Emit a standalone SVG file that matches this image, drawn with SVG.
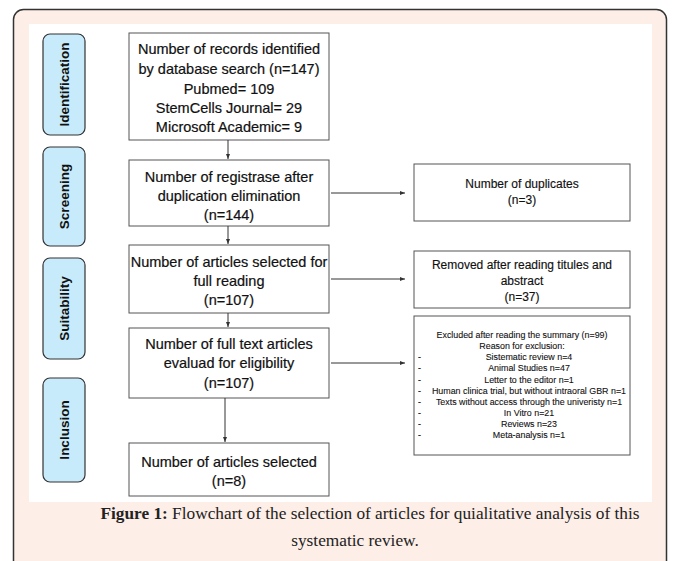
<svg xmlns="http://www.w3.org/2000/svg" width="677" height="561" viewBox="0 0 677 561">
<defs>
<style>
.frame{fill:#fdeee7;stroke:#333;stroke-width:1.5}
.panel{fill:#fff}
.pill{fill:#c8ebfb;stroke:#333;stroke-width:1.2}
.pt{font-family:"Liberation Sans",Arial,sans-serif;font-weight:bold;font-size:13.5px;fill:#111;text-anchor:middle}
.box{fill:#fff;stroke:#555;stroke-width:1}
.t{font-family:"Liberation Sans",Arial,sans-serif;font-size:14.5px;fill:#111;stroke:#111;stroke-width:0.2;text-anchor:middle}
.ts{font-family:"Liberation Sans",Arial,sans-serif;font-size:12px;fill:#111;stroke:#111;stroke-width:0.15;text-anchor:middle}
.tx{font-family:"Liberation Sans",Arial,sans-serif;font-size:8.9px;fill:#111;stroke:#111;stroke-width:0.1}
.c{stroke:#333;stroke-width:1;fill:none;marker-end:url(#ah)}
.cap{font-family:"Liberation Serif","Times New Roman",serif;font-size:17.3px;fill:#222;text-anchor:middle}
</style>
<marker id="ah" markerWidth="6" markerHeight="6" refX="5" refY="3" orient="auto" markerUnits="userSpaceOnUse">
<path d="M0,1 L5,3 L0,5 Z" fill="#333"/>
</marker>
</defs>
<rect class="frame" x="13.5" y="9.5" width="653" height="580" rx="10"/>
<rect class="panel" x="29" y="24" width="623" height="478"/>

<g id="stage-identification"><rect class="pill" x="43" y="34" width="42" height="101" rx="7"/><text class="pt" transform="translate(69,84.5) rotate(-90)">Identification</text></g>
<g id="stage-screening"><rect class="pill" x="43" y="147" width="42" height="99" rx="7"/><text class="pt" transform="translate(69,196.5) rotate(-90)">Screening</text></g>
<g id="stage-suitability"><rect class="pill" x="43" y="258" width="42" height="101" rx="7"/><text class="pt" transform="translate(69,308.5) rotate(-90)">Suitability</text></g>
<g id="stage-inclusion"><rect class="pill" x="43" y="378" width="42" height="104" rx="7"/><text class="pt" transform="translate(69,430) rotate(-90)">Inclusion</text></g>

<g id="records">
<rect class="box" x="129" y="33" width="200" height="107"/>
<text class="t" x="229" y="54">Number of records identified</text>
<text class="t" x="229" y="74">by database search (n=147)</text>
<text class="t" x="229" y="94">Pubmed= 109</text>
<text class="t" x="229" y="113">StemCells Journal= 29</text>
<text class="t" x="229" y="132">Microsoft Academic= 9</text>
</g>
<g id="dedup">
<rect class="box" x="129" y="160" width="200" height="66"/>
<text class="t" x="229" y="182">Number of registrase after</text>
<text class="t" x="229" y="201">duplication elimination</text>
<text class="t" x="229" y="220">(n=144)</text>
</g>
<g id="fullreading">
<rect class="box" x="129" y="245" width="200" height="68"/>
<text class="t" x="229" y="267">Number of articles selected for</text>
<text class="t" x="229" y="286">full reading</text>
<text class="t" x="229" y="305">(n=107)</text>
</g>
<g id="eligibility">
<rect class="box" x="129" y="328" width="200" height="70"/>
<text class="t" x="229" y="349">Number of full text articles</text>
<text class="t" x="229" y="368">evaluad for eligibility</text>
<text class="t" x="229" y="388">(n=107)</text>
</g>
<g id="selected">
<rect class="box" x="129" y="443" width="200" height="53"/>
<text class="t" x="229" y="467">Number of articles selected</text>
<text class="t" x="229" y="486">(n=8)</text>
</g>
<g id="duplicates">
<rect class="box" x="414" y="164" width="216" height="57"/>
<text class="ts" x="522" y="188">Number of duplicates</text>
<text class="ts" x="522" y="204">(n=3)</text>
</g>
<g id="removed">
<rect class="box" x="414" y="251" width="216" height="57"/>
<text class="ts" x="522" y="269">Removed after reading titules and</text>
<text class="ts" x="522" y="285">abstract</text>
<text class="ts" x="522" y="301">(n=37)</text>
</g>
<g id="excluded">
<rect class="box" x="414" y="316" width="216" height="139"/>
<g class="tx" text-anchor="middle">
<text x="522" y="338">Excluded after reading the summary (n=99)</text>
<text x="522" y="349">Reason for exclusion:</text>
<text x="529" y="360">Sistematic review n=4</text>
<text x="529" y="371">Animal Studies n=47</text>
<text x="529" y="383">Letter to the editor n=1</text>
<text x="529" y="394">Human clinica trial, but without intraoral GBR n=1</text>
<text x="529" y="405">Texts without access through the univeristy n=1</text>
<text x="529" y="416">In Vitro n=21</text>
<text x="529" y="427">Reviews n=23</text>
<text x="529" y="438">Meta-analysis n=1</text>
</g>
<g class="tx">
<text x="418" y="360">-</text><text x="418" y="371">-</text><text x="418" y="383">-</text><text x="418" y="394">-</text>
<text x="418" y="405">-</text><text x="418" y="416">-</text><text x="418" y="427">-</text><text x="418" y="438">-</text>
</g>
</g>

<g id="connectors">
<line class="c" x1="228" y1="140" x2="228" y2="159"/>
<line class="c" x1="228" y1="226" x2="228" y2="244"/>
<line class="c" x1="228" y1="313" x2="228" y2="327"/>
<line class="c" x1="225" y1="398" x2="225" y2="442"/>
<line class="c" x1="331" y1="193" x2="405" y2="193"/>
<line class="c" x1="331" y1="279" x2="405" y2="279"/>
<line class="c" x1="331" y1="363" x2="405" y2="363"/>
</g>

<text class="cap" x="370" y="519"><tspan font-weight="bold">Figure 1:</tspan> Flowchart of the selection of articles for quialitative analysis of this</text>
<text class="cap" x="355" y="546">systematic review.</text>
</svg>
